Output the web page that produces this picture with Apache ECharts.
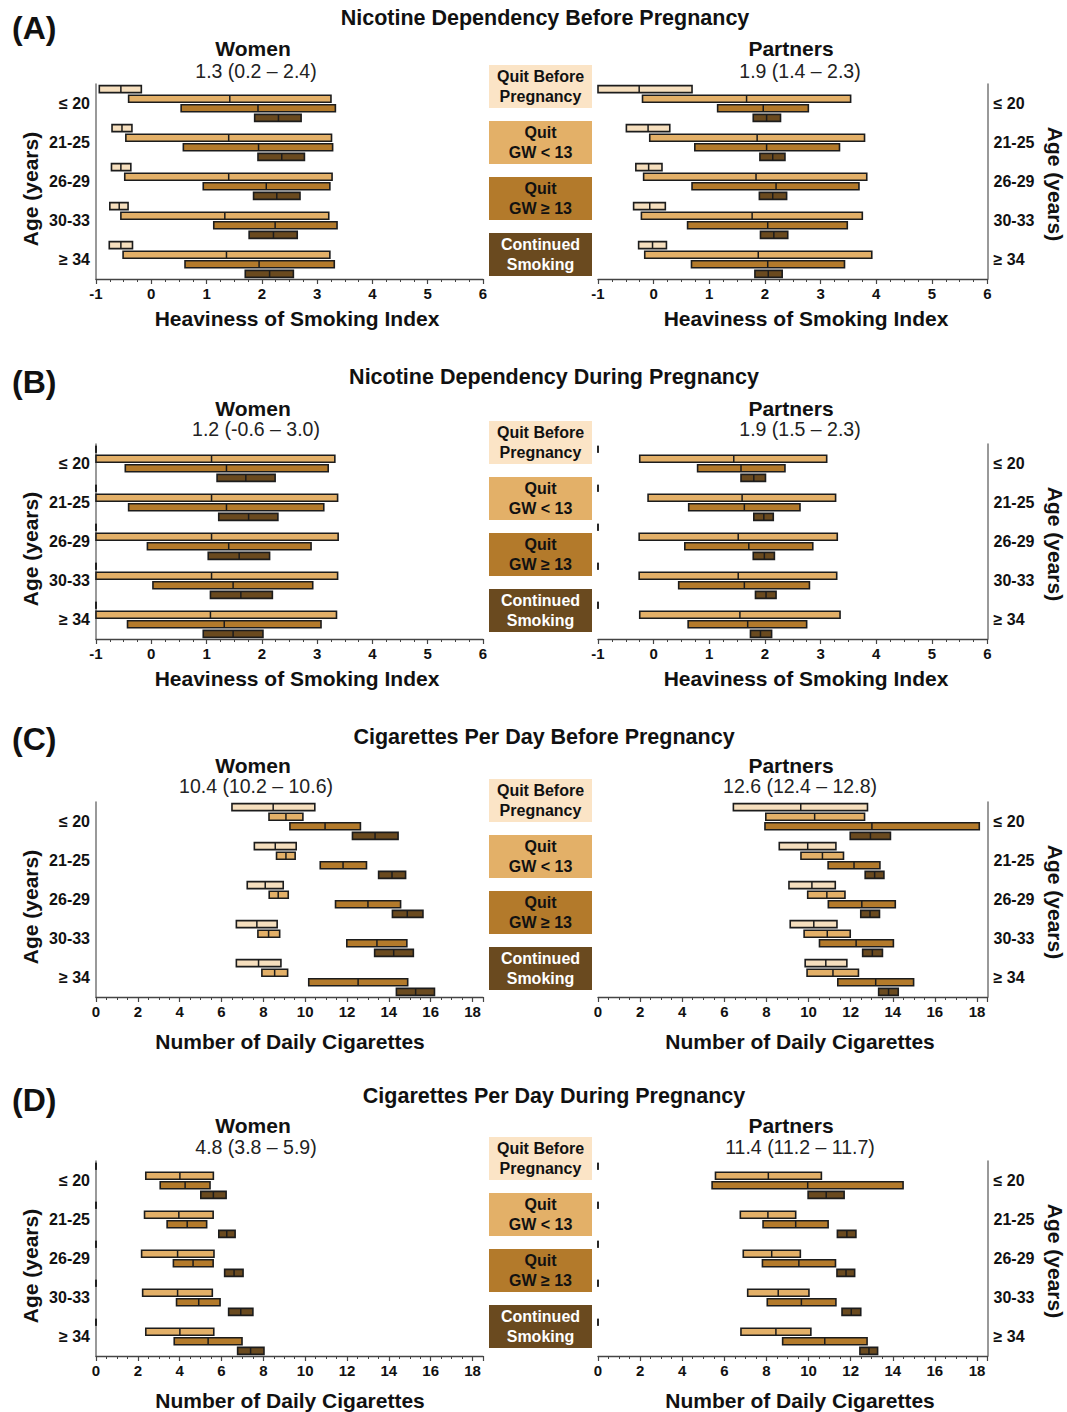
<!DOCTYPE html>
<html><head><meta charset="utf-8">
<script src="https://cdn.jsdelivr.net/npm/echarts@6/dist/echarts.min.js"></script>
<style>html,body{margin:0;padding:0;background:#fff}#chart{width:1067px;height:1412px}</style>
</head><body><div id="chart"></div>
<script>
// ---------- data ----------
const ageGroups = ['≤ 20', '21-25', '26-29', '30-33', '≥ 34'];
const statusLabels = ['Quit Before\nPregnancy', 'Quit\nGW < 13', 'Quit\nGW ≥ 13', 'Continued\nSmoking'];
const statusColors = ['#F6DFBE', '#E3B068', '#B37A2B', '#6A4A1F'];
const legendColors = ['#FBE4C6', '#E3B068', '#B37A2B', '#6A4A1F'];
const legendTextColors = ['#111', '#111', '#111', '#fff'];

const panelLetters = ['(A)', '(B)', '(C)', '(D)'];
const panelTitles = ['Nicotine Dependency Before Pregnancy', 'Nicotine Dependency During Pregnancy',
  'Cigarettes Per Day Before Pregnancy', 'Cigarettes Per Day During Pregnancy'];
const womenSummary = ['1.3 (0.2 – 2.4)', '1.2 (-0.6 – 3.0)', '10.4 (10.2 – 10.6)', '4.8 (3.8 – 5.9)'];
const partnersSummary = ['1.9 (1.4 – 2.3)', '1.9 (1.5 – 2.3)', '12.6 (12.4 – 12.8)', '11.4 (11.2 – 11.7)'];
const axisNames = ['Heaviness of Smoking Index', 'Heaviness of Smoking Index',
  'Number of Daily Cigarettes', 'Number of Daily Cigarettes'];
const axisMin = [-1, -1, 0, 0];
const axisMax = [6, 6, 18.5, 18.5];
const axisInterval = [1, 1, 2, 2];
const showMaxTickLabel = [true, true, false, false];

// rows = age groups; each row: [low, mean, high] for the 4 smoking statuses
const hsiBeforeWomen = [
  [[-0.94, -0.55, -0.18], [-0.41, 1.42, 3.25], [0.54, 1.93, 3.33], [1.87, 2.30, 2.71]],
  [[-0.71, -0.53, -0.35], [-0.46, 1.40, 3.26], [0.58, 1.94, 3.28], [1.93, 2.36, 2.77]],
  [[-0.72, -0.55, -0.37], [-0.48, 1.40, 3.27], [0.94, 2.08, 3.23], [1.85, 2.27, 2.69]],
  [[-0.75, -0.58, -0.42], [-0.55, 1.33, 3.21], [1.13, 2.24, 3.36], [1.77, 2.21, 2.64]],
  [[-0.76, -0.55, -0.34], [-0.51, 1.36, 3.23], [0.61, 1.95, 3.31], [1.70, 2.14, 2.57]]
];
const hsiBeforePartners = [
  [[-1.00, -0.26, 0.69], [-0.20, 1.67, 3.54], [1.15, 1.97, 2.78], [1.79, 2.03, 2.28]],
  [[-0.49, -0.10, 0.29], [-0.07, 1.86, 3.79], [0.74, 2.03, 3.34], [1.91, 2.14, 2.36]],
  [[-0.32, -0.09, 0.15], [-0.18, 1.84, 3.83], [0.69, 2.20, 3.69], [1.90, 2.14, 2.39]],
  [[-0.36, -0.07, 0.21], [-0.22, 1.77, 3.75], [0.61, 2.05, 3.48], [1.92, 2.16, 2.41]],
  [[-0.27, -0.02, 0.23], [-0.16, 1.88, 3.92], [0.68, 2.05, 3.43], [1.82, 2.06, 2.31]]
];
const hsiDuringWomen = [
  [[-1, -1, -1], [-1, 1.09, 3.32], [-0.47, 1.36, 3.20], [1.19, 1.71, 2.24]],
  [[-1, -1, -1], [-1, 1.09, 3.37], [-0.41, 1.36, 3.12], [1.22, 1.76, 2.29]],
  [[-1, -1, -1], [-1, 1.09, 3.38], [-0.07, 1.40, 2.89], [1.03, 1.59, 2.14]],
  [[-1, -1, -1], [-1, 1.09, 3.37], [0.03, 1.48, 2.92], [1.07, 1.62, 2.19]],
  [[-1, -1, -1], [-1, 1.07, 3.35], [-0.43, 1.32, 3.07], [0.94, 1.48, 2.02]]
];
const hsiDuringPartners = [
  [[-1, -1, -1], [-0.25, 1.44, 3.11], [0.79, 1.57, 2.36], [1.57, 1.80, 2.01]],
  [[-1, -1, -1], [-0.10, 1.59, 3.27], [0.63, 1.63, 2.63], [1.80, 1.98, 2.15]],
  [[-1, -1, -1], [-0.26, 1.52, 3.30], [0.56, 1.71, 2.86], [1.79, 1.99, 2.17]],
  [[-1, -1, -1], [-0.26, 1.52, 3.29], [0.45, 1.63, 2.80], [1.83, 2.02, 2.20]],
  [[-1, -1, -1], [-0.25, 1.55, 3.35], [0.62, 1.69, 2.75], [1.74, 1.92, 2.12]]
];
const cpdBeforeWomen = [
  [[6.50, 8.47, 10.46], [8.27, 9.08, 9.89], [9.27, 10.95, 12.64], [12.26, 13.34, 14.44]],
  [[7.57, 8.57, 9.57], [8.63, 9.08, 9.52], [10.72, 11.81, 12.93], [13.51, 14.15, 14.80]],
  [[7.23, 8.09, 8.95], [8.28, 8.71, 9.19], [11.45, 13.00, 14.56], [14.17, 14.88, 15.63]],
  [[6.71, 7.69, 8.66], [7.74, 8.25, 8.78], [11.99, 13.43, 14.86], [13.32, 14.23, 15.17]],
  [[6.71, 7.77, 8.84], [7.93, 8.54, 9.16], [10.17, 12.53, 14.90], [14.36, 15.28, 16.18]]
];
const cpdBeforePartners = [
  [[6.43, 9.63, 12.80], [7.97, 10.29, 12.66], [7.93, 13.01, 18.11], [11.98, 12.94, 13.89]],
  [[8.61, 9.96, 11.30], [9.64, 10.66, 11.66], [10.93, 12.16, 13.39], [12.69, 13.14, 13.58]],
  [[9.07, 10.16, 11.27], [9.96, 10.87, 11.73], [10.94, 12.53, 14.12], [12.48, 12.92, 13.37]],
  [[9.13, 10.25, 11.35], [9.79, 10.89, 11.98], [10.52, 12.26, 14.03], [12.57, 13.03, 13.51]],
  [[9.84, 10.82, 11.82], [9.93, 11.16, 12.37], [11.39, 13.19, 14.99], [13.33, 13.80, 14.26]]
];
const cpdDuringWomen = [
  [[0, 0, 0], [2.38, 4.01, 5.61], [3.07, 4.26, 5.45], [5.01, 5.61, 6.22]],
  [[0, 0, 0], [2.32, 3.96, 5.60], [3.40, 4.36, 5.29], [5.87, 6.25, 6.65]],
  [[0, 0, 0], [2.18, 3.90, 5.64], [3.70, 4.64, 5.60], [6.15, 6.60, 7.03]],
  [[0, 0, 0], [2.23, 3.90, 5.56], [3.85, 4.91, 5.93], [6.34, 6.92, 7.50]],
  [[0, 0, 0], [2.38, 4.01, 5.63], [3.74, 5.36, 6.98], [6.77, 7.39, 8.03]]
];
const cpdDuringPartners = [
  [[0, 0, 0], [5.58, 8.09, 10.61], [5.42, 9.96, 14.49], [9.98, 10.84, 11.69]],
  [[0, 0, 0], [6.76, 8.07, 9.39], [7.84, 9.39, 10.93], [11.37, 11.82, 12.25]],
  [[0, 0, 0], [6.90, 8.25, 9.61], [7.81, 9.54, 11.28], [11.35, 11.78, 12.19]],
  [[0, 0, 0], [7.11, 8.56, 10.02], [8.04, 9.66, 11.30], [11.59, 12.03, 12.48]],
  [[0, 0, 0], [6.79, 8.45, 10.11], [8.77, 10.77, 12.78], [12.44, 12.87, 13.28]]
];
const panelData = [
  [hsiBeforeWomen, hsiBeforePartners],
  [hsiDuringWomen, hsiDuringPartners],
  [cpdBeforeWomen, cpdBeforePartners],
  [cpdDuringWomen, cpdDuringPartners]
];

// ---------- layout ----------
const FONT = "'Liberation Sans', Arial, sans-serif";
const gridOffset = [0, 360, 718, 1077];
const titleY = [18, 377, 737, 1096];
const titleX = [545, 554, 544, 554];
const letterY = [28, 382, 739, 1100];
const whoY = [48, 408, 765, 1125];
const subY = [71, 429, 786, 1147];
const nameY = [318, 678, 1041, 1400];
const legendTop = [65, 421, 779, 1137];
const sides = [
  { left: 96, width: 387, who: 'Women', whoX: 253, subX: 256, nameX: [297, 297, 290, 290], pos: 'left', ageX: 30, ageRot: Math.PI / 2, ageDY: 189 },
  { left: 598, width: 389.5, who: 'Partners', whoX: 791, subX: 800, nameX: [806, 806, 800, 800], pos: 'right', ageX: 1055, ageRot: -Math.PI / 2, ageDY: 184 }
];

function renderItem(params, api) {
  const cat = api.value(0), lo = api.value(1), mid = api.value(2), hi = api.value(3), k = api.value(4);
  const p0 = api.coord([lo, cat]);
  const x1 = api.coord([hi, cat])[0];
  const xm = api.coord([mid, cat])[0];
  const bandH = api.size([0, 1])[1];
  const slot = bandH / 4.08;
  const y = p0[1] + (k - 1.5) * slot;
  const h = 7;
  return {
    type: 'group',
    children: [
      { type: 'rect', shape: { x: p0[0], y: y - h / 2, width: x1 - p0[0], height: h },
        style: { fill: statusColors[k], stroke: '#1c1c1c', lineWidth: 1.6 } },
      { type: 'line', shape: { x1: xm, y1: y - h / 2, x2: xm, y2: y + h / 2 },
        style: { stroke: '#1c1c1c', lineWidth: 1.5 } }
    ]
  };
}

const grid = [], xAxis = [], yAxis = [], series = [], graphic = [];
for (let p = 0; p < 4; p++) {
  const off = gridOffset[p];
  graphic.push({ type: 'text', x: 12, y: letterY[p], style: { text: panelLetters[p], font: 'bold 32px ' + FONT, fill: '#111', align: 'left', verticalAlign: 'middle' } });
  graphic.push({ type: 'text', x: titleX[p], y: titleY[p], style: { text: panelTitles[p], font: 'bold 21.5px ' + FONT, fill: '#111', align: 'center', verticalAlign: 'middle' } });
  for (let s = 0; s < 2; s++) {
    const sd = sides[s];
    const idx = p * 2 + s;
    grid.push({ left: sd.left, top: 84 + off, width: sd.width, height: 195 });
    xAxis.push({
      type: 'value', gridIndex: idx, min: axisMin[p], max: axisMax[p], interval: axisInterval[p],
      axisLine: { show: true, onZero: false, lineStyle: { color: '#444', width: 1.4 } },
      axisTick: { show: true, length: 5, lineStyle: { color: '#444', width: 1.2 } },
      minorTick: { show: true, splitNumber: 4, length: 3, lineStyle: { color: '#444', width: 1 } },
      splitLine: { show: false },
      axisLabel: { margin: 7, fontFamily: FONT, fontWeight: 'bold', fontSize: 15, color: '#111', showMaxLabel: showMaxTickLabel[p] }
    });
    yAxis.push({
      type: 'category', gridIndex: idx, data: ageGroups, inverse: true, position: sd.pos,
      axisLine: { show: true, onZero: false, lineStyle: { color: '#777', width: 1.5 } },
      axisTick: { show: false },
      splitLine: { show: false },
      axisLabel: { margin: 6, fontFamily: FONT, fontWeight: 'bold', fontSize: 16, color: '#111' }
    });
    const rows = panelData[p][s];
    const items = [];
    rows.forEach((row, a) => row.forEach((v, k) => items.push([a, v[0], v[1], v[2], k])));
    series.push({
      type: 'custom', xAxisIndex: idx, yAxisIndex: idx, renderItem: renderItem,
      encode: { x: [1, 2, 3], y: 0 }, data: items, silent: true
    });
    graphic.push({ type: 'text', x: sd.whoX, y: whoY[p], style: { text: sd.who, font: 'bold 21px ' + FONT, fill: '#111', align: 'center', verticalAlign: 'middle' } });
    graphic.push({ type: 'text', x: sd.subX, y: subY[p], style: { text: s === 0 ? womenSummary[p] : partnersSummary[p], font: '19.5px ' + FONT, fill: '#222', align: 'center', verticalAlign: 'middle' } });
    graphic.push({ type: 'text', x: sd.nameX[p], y: nameY[p], style: { text: axisNames[p], font: 'bold 21px ' + FONT, fill: '#111', align: 'center', verticalAlign: 'middle' } });
    graphic.push({ type: 'text', x: sd.ageX, y: sd.ageDY + off, rotation: sd.ageRot, style: { text: 'Age (years)', font: 'bold 21px ' + FONT, fill: '#111', align: 'center', verticalAlign: 'middle' } });
  }
  for (let k = 0; k < 4; k++) {
    const top = legendTop[p] + k * 56;
    graphic.push({ type: 'rect', shape: { x: 489, y: top, width: 103, height: 43 }, style: { fill: legendColors[k] } });
    graphic.push({ type: 'text', x: 540.5, y: top + 21.5, style: { text: statusLabels[k], font: 'bold 16px ' + FONT, lineHeight: 20, fill: legendTextColors[k], align: 'center', verticalAlign: 'middle' } });
  }
}

const chart = echarts.init(document.getElementById('chart'), null, { renderer: 'svg' });
chart.setOption({ animation: false, backgroundColor: '#fff', grid, xAxis, yAxis, series, graphic });
</script>
</body></html>
